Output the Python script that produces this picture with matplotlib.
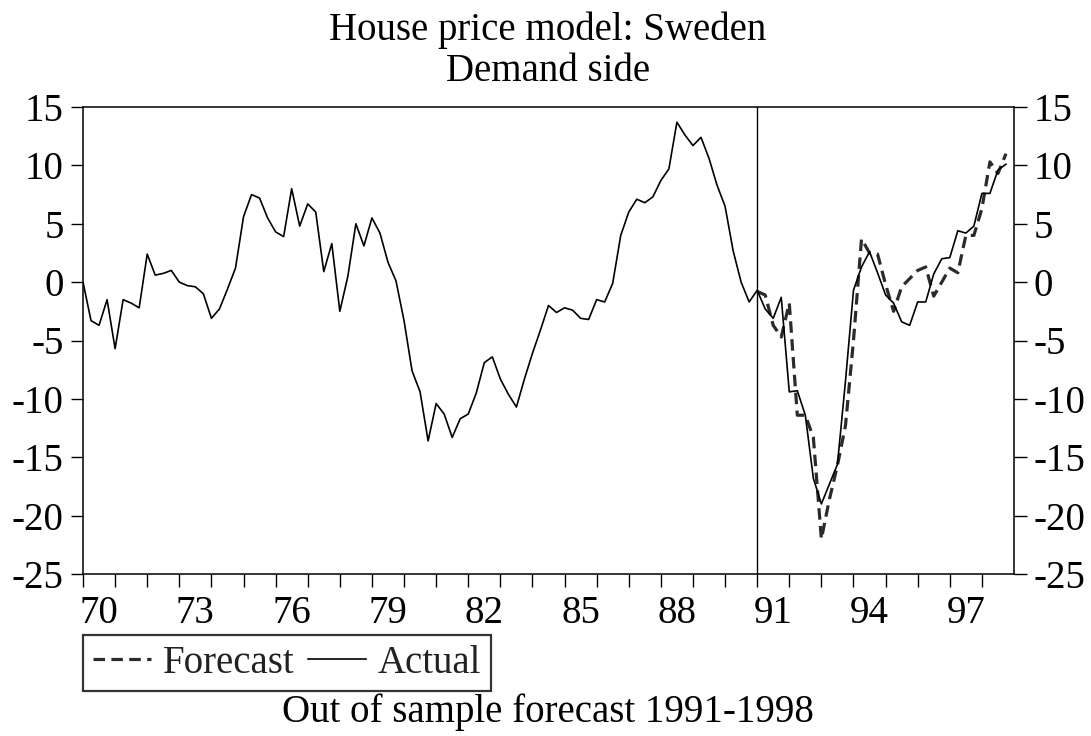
import matplotlib
matplotlib.use("Agg")
import matplotlib.pyplot as plt
import numpy as np

plt.rcParams["font.family"] = ["Liberation Serif", "DejaVu Serif"]
plt.rcParams["axes.unicode_minus"] = False

# quarterly data, 1970Q1 - 1998Q4
start_year = 1970
actual = [
    0.0, -3.3, -3.7, -1.5,      # 1970
    -5.7, -1.5, -1.8, -2.2,     # 1971
    2.4, 0.6, 0.75, 1.0,        # 1972
    0.0, -0.3, -0.4, -1.0,      # 1973
    -3.1, -2.3, -0.6, 1.2,      # 1974
    5.6, 7.5, 7.2, 5.5,         # 1975
    4.3, 3.9, 8.0, 4.8,         # 1976
    6.7, 6.0, 0.9, 3.3,         # 1977
    -2.5, 0.5, 5.0, 3.1,        # 1978
    5.5, 4.2, 1.7, 0.1,         # 1979
    -3.3, -7.6, -9.4, -13.6,    # 1980
    -10.4, -11.3, -13.3, -11.7, # 1981
    -11.3, -9.5, -6.9, -6.4,    # 1982
    -8.3, -9.6, -10.7, -8.3,    # 1983
    -6.1, -4.1, -2.0, -2.6,     # 1984
    -2.2, -2.4, -3.1, -3.2,     # 1985
    -1.5, -1.7, -0.1, 4.0,      # 1986
    6.0, 7.1, 6.8, 7.3,         # 1987
    8.7, 9.7, 13.7, 12.6,       # 1988
    11.7, 12.4, 10.6, 8.3,      # 1989
    6.5, 2.7, 0.0, -1.7,        # 1990
    -0.7, -2.3, -3.1, -1.3,     # 1991
    -9.4, -9.3, -11.4, -16.8,   # 1992
    -19.0, -17.3, -15.6, -8.5,  # 1993
    -0.7, 1.3, 2.6, 0.8,        # 1994
    -1.1, -1.8, -3.4, -3.7,     # 1995
    -1.7, -1.7, 0.7, 2.0,       # 1996
    2.1, 4.4, 4.2, 4.8,         # 1997
    7.6, 7.6, 9.6, 10.1,        # 1998
]

# out of sample forecast, 1991Q1 - 1998Q4
forecast_start = 1991
forecast = [
    -0.8, -1.1, -3.7, -4.7,     # 1991
    -1.8, -11.4, -11.4, -13.3,  # 1992
    -22.0, -18.6, -15.7, -12.3, # 1993
    -5.0, 3.7, 2.5, 2.4,        # 1994
    -0.2, -2.5, -0.4, 0.3,      # 1995
    1.0, 1.3, -1.2, 0.0,        # 1996
    1.2, 0.8, 4.0, 4.0,         # 1997
    6.3, 10.3, 9.3, 11.0,       # 1998
]

year_labels = ["70", "73", "76", "79", "82", "85", "88", "91", "94", "97"]
y_ticks = [-25, -20, -15, -10, -5, 0, 5, 10, 15]

x_act = start_year + np.arange(len(actual)) / 4.0
x_fc = forecast_start + np.arange(len(forecast)) / 4.0

W, H = 1091, 736
fig = plt.figure(figsize=(W / 100, H / 100), dpi=100)
ax = fig.add_axes([83 / W, 1 - 574 / H, (1014 - 83) / W, (574 - 107) / H])

fs = 28
ax.plot(x_fc, forecast, color="#2b2b2b", lw=2.3, dashes=(3.6, 2.0),
        label="Forecast")
ax.plot(x_act, actual, color="black", lw=1.2, label="Actual")
ax.axvline(forecast_start, color="black", lw=1.0)

ax.set_xlim(1970, 1999)
ax.set_ylim(-25, 15)

ax.set_xticks(np.arange(1970, 1999))
ax.set_xticklabels([])
label_pos = [1900 + int(s) + 0.5 for s in year_labels]
ax.set_xticks(label_pos, minor=True)
ax.set_xticklabels(year_labels, minor=True)
ax.tick_params(axis="x", which="major", direction="out", length=9, width=1.0)
ax.tick_params(axis="x", which="minor", length=0, pad=15, labelsize=fs)

ax.set_yticks(y_ticks)
ax.set_yticklabels([str(v) for v in y_ticks])
ax.tick_params(axis="y", direction="out", length=9, width=1.0, pad=5,
               labelsize=fs, left=True, right=True, labelleft=True,
               labelright=True)

for sp in ax.spines.values():
    sp.set_linewidth(1.1)

fig.text(548 / W, 1 - 40 / H, "House price model: Sweden", ha="center",
         va="baseline", fontsize=fs)
fig.text(548 / W, 1 - 81 / H, "Demand side", ha="center", va="baseline",
         fontsize=fs)
fig.text(548 / W, 1 - 722 / H, "Out of sample forecast 1991-1998",
         ha="center", va="baseline", fontsize=fs)

leg = fig.legend(loc="upper left", bbox_to_anchor=(83 / W, 1 - 635 / H),
                 ncol=2, fontsize=fs, frameon=True, fancybox=False,
                 handlelength=1.5, handletextpad=0.3, columnspacing=0.35,
                 borderpad=0.25, borderaxespad=0)
leg.get_frame().set_edgecolor("black")
leg.get_frame().set_linewidth(1.6)
for t in leg.get_texts():
    t.set_color("#222222")

fig.savefig("out.png", dpi=100)
